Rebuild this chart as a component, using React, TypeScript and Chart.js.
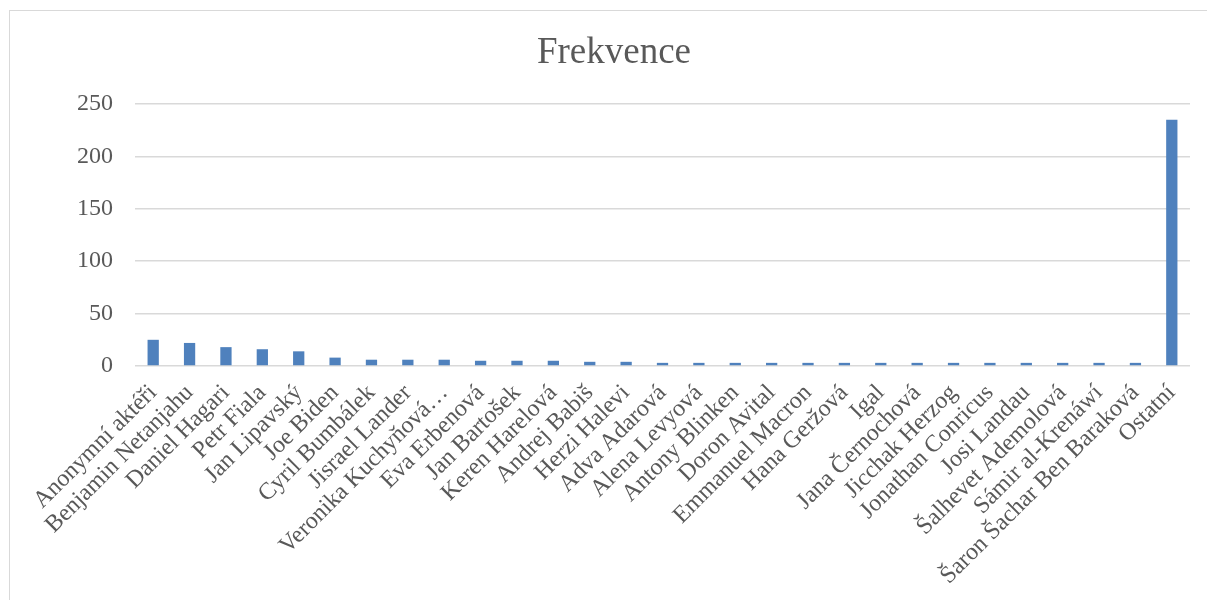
import React, { useEffect, useRef } from "react";
import { Chart, registerables } from "chart.js";

Chart.register(...registerables);

const TITLE = "Frekvence";
const categories: string[] = [
  "Anonymní aktéři",
  "Benjamin Netanjahu",
  "Daniel Hagari",
  "Petr Fiala",
  "Jan Lipavský",
  "Joe Biden",
  "Cyril Bumbálek",
  "Jisrael Lander",
  "Veronika Kuchyňová…",
  "Eva Erbenová",
  "Jan Bartošek",
  "Keren Harelová",
  "Andrej Babiš",
  "Herzi Halevi",
  "Adva Adarová",
  "Alena Levyová",
  "Antony Blinken",
  "Doron Avital",
  "Emmanuel Macron",
  "Hana Geržová",
  "Igal",
  "Jana Černochová",
  "Jicchak Herzog",
  "Jonathan Conricus",
  "Josi Landau",
  "Šalhevet Ademolová",
  "Sámir al-Krenáwí",
  "Šaron Šachar Ben Baraková",
  "Ostatní",
];
const frequencies: number[] = [
  25, 22, 18, 16, 14, 8, 6, 6, 6, 5, 5, 5, 4, 4, 3, 3, 3, 3, 3, 3, 3, 3, 3, 3, 3,
  3, 3, 3, 235,
];
const yTicks: number[] = [0, 50, 100, 150, 200, 250];

const FONT = "'Liberation Serif', 'Times New Roman', serif";
const GREY = "#595959";

export default function App() {
  const ref = useRef<HTMLCanvasElement | null>(null);

  useEffect(() => {
    if (!ref.current) return;
    const chart = new Chart(ref.current, {
      type: "bar",
      data: {
        labels: categories,
        datasets: [
          {
            label: TITLE,
            data: frequencies,
            backgroundColor: "#4F81BD",
            borderWidth: 0,
            barPercentage: 0.31,
            categoryPercentage: 1,
          },
        ],
      },
      options: {
        animation: false,
        responsive: false,
        devicePixelRatio: 1,
        layout: { padding: { top: 0, left: 38, right: 17, bottom: 0 } },
        plugins: {
          legend: { display: false },
          tooltip: { enabled: false },
          title: {
            display: true,
            text: TITLE,
            color: GREY,
            font: { family: FONT, size: 37, weight: "normal", lineHeight: 1.2 },
            padding: { top: 31, bottom: 28.6 },
          },
        },
        scales: {
          x: {
            grid: { display: false, drawTicks: false },
            border: { display: false },
            ticks: {
              autoSkip: false,
              maxRotation: 45,
              minRotation: 45,
              color: GREY,
              font: { family: FONT, size: 24 },
              padding: 13,
            },
            afterFit: (s: any) => {
              s.height = 234;
            },
          },
          y: {
            min: 0,
            max: 250,
            afterBuildTicks: (s: any) => {
              s.ticks = yTicks.map((v) => ({ value: v }));
            },
            grid: { color: "#D9D9D9", lineWidth: 1.5, drawTicks: false },
            border: { display: false },
            ticks: {
              color: GREY,
              font: { family: FONT, size: 24 },
              padding: 22,
            },
            afterFit: (s: any) => {
              s.width = 97;
            },
          },
        },
      },
    });
    return () => chart.destroy();
  }, []);

  return (
    <div
      style={{
        position: "fixed",
        left: 0,
        top: 0,
        width: 1207,
        height: 600,
        overflow: "hidden",
        background: "#fff",
      }}
    >
      <div
        style={{
          position: "absolute",
          left: 9,
          top: 10,
          width: 1220,
          height: 620,
          border: "1px solid #D9D9D9",
        }}
      />
      <canvas
        ref={ref}
        width={1207}
        height={600}
        style={{ position: "absolute", left: 0, top: 0, width: 1207, height: 600 }}
      />
    </div>
  );
}
